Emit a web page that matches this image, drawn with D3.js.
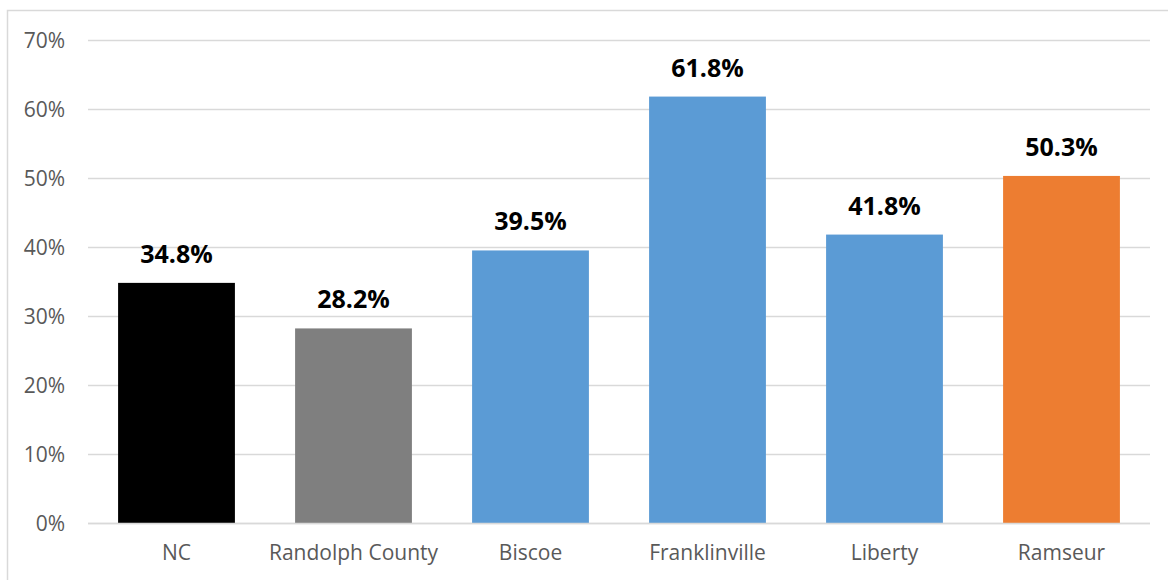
<!DOCTYPE html>
<html><head><meta charset="utf-8">
<script src="https://cdn.jsdelivr.net/npm/d3@7"></script>
<style>html,body{margin:0;padding:0;background:#fff;}svg{display:block;}</style>
</head><body>
<svg id="chart" width="1168" height="580"></svg>
<script>
const categories = ["NC", "Randolph County", "Biscoe", "Franklinville", "Liberty", "Ramseur"];
const values = [34.8, 28.2, 39.5, 61.8, 41.8, 50.3];
const colors = ["#000000", "#7f7f7f", "#5b9bd5", "#5b9bd5", "#5b9bd5", "#ed7d31"];
const yTicks = [0, 10, 20, 30, 40, 50, 60, 70];

const svg = d3.select("#chart");
const font = "'Open Sans', sans-serif";

// chart border
svg.append("rect").attr("x", 7.5).attr("y", 10.5).attr("width", 1200).attr("height", 600)
  .attr("fill", "none").attr("stroke", "#d9d9d9").attr("stroke-width", 1.5);

const x = d3.scaleBand().domain(categories).range([88, 1150]).paddingInner(0.34).paddingOuter(0.17);
const y = d3.scaleLinear().domain([0, 70]).range([523, 40]);

// gridlines
svg.append("g").selectAll("line").data(yTicks).join("line")
  .attr("x1", 88).attr("x2", 1150)
  .attr("y1", d => Math.round(y(d)) + 0.5).attr("y2", d => Math.round(y(d)) + 0.5)
  .attr("stroke", "#d9d9d9").attr("stroke-width", 1.5);

// y axis
const yAxis = d3.axisLeft(y).tickValues(yTicks).tickFormat(d => d + "%").tickSize(0).tickPadding(0);
const yg = svg.append("g").attr("transform", "translate(65,0)").call(yAxis);
yg.select(".domain").remove();
yg.selectAll("text").attr("font-family", font).attr("font-size", 21).attr("fill", "#595959").attr("dy", "0.36em");

// bars
svg.append("g").selectAll("rect").data(values).join("rect")
  .attr("x", (d, i) => x(categories[i]))
  .attr("width", x.bandwidth())
  .attr("y", d => y(d))
  .attr("height", d => y(0) - y(d))
  .attr("fill", (d, i) => colors[i]);

// value labels
svg.append("g").selectAll("text").data(values).join("text")
  .attr("x", (d, i) => x(categories[i]) + x.bandwidth() / 2)
  .attr("y", d => y(d) - 20)
  .attr("text-anchor", "middle")
  .attr("font-family", font).attr("font-size", 25).attr("font-weight", "bold").attr("fill", "#000")
  .text(d => d.toFixed(1) + "%");

// x axis
const xAxis = d3.axisBottom(x).tickSize(0).tickPadding(0);
const xg = svg.append("g").attr("transform", "translate(0,523)").call(xAxis);
xg.select(".domain").remove();
xg.selectAll("text").attr("font-family", font).attr("font-size", 21).attr("fill", "#595959").attr("dy", "1.78em");

// baseline
svg.append("line").attr("x1", 88).attr("x2", 1150).attr("y1", 523.5).attr("y2", 523.5)
  .attr("stroke", "#d9d9d9").attr("stroke-width", 1.5);
</script>
</body></html>
